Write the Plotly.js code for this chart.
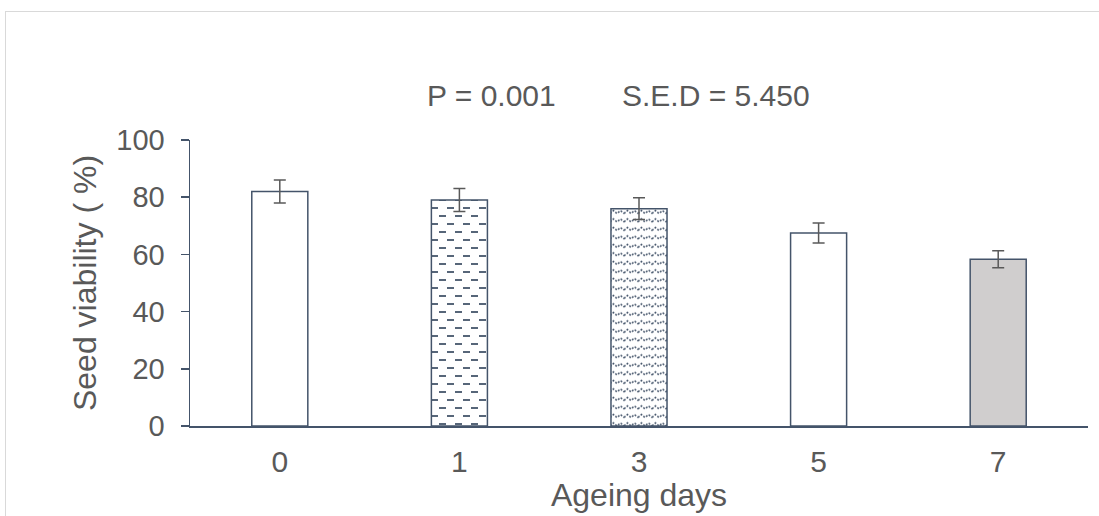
<!DOCTYPE html>
<html>
<head>
<meta charset="utf-8">
<script src="https://cdn.plot.ly/plotly-3.0.1.min.js"></script>
<style>
  html, body { margin: 0; padding: 0; background: #ffffff; }
  #wrap { position: relative; width: 1099px; height: 516px; overflow: hidden; }
  #frame { position: absolute; left: 5px; top: 11px; width: 1200px; height: 600px;
           border-top: 1px solid #d9d9d9; border-left: 1px solid #d9d9d9; pointer-events: none; }
  #chart { position: absolute; left: 0; top: 0; width: 1099px; height: 516px; }
</style>
</head>
<body>
<div id="wrap">
  <div id="chart"></div>
  <div id="frame"></div>
</div>
<script>
// Seed viability after accelerated ageing
const ageingDays = ['0', '1', '3', '5', '7'];
const viability = [82, 79, 76, 67.5, 58.3];
const viabilityErr = [4, 4, 3.8, 3.5, 3];
const barFills = ['#ffffff', '#ffffff', '#ffffff', '#ffffff', '#D0CECE'];
const barTextures = ['none', 'dash', 'wave', 'none', 'none'];
const yTicks = [0, 20, 40, 60, 80, 100];
const statsP = 'P = 0.001';
const statsSED = 'S.E.D = 5.450';

const textGrey = '#595959';
const axisBlue = '#44546A';
const font = 'Liberation Sans, Arial, sans-serif';

const trace = {
  type: 'bar',
  x: ageingDays,
  y: viability,
  width: 0.312,
  marker: {
    color: barFills,
    line: { color: axisBlue, width: 1.5 }
  },
  error_y: {
    type: 'data', array: viabilityErr, visible: true,
    color: textGrey, thickness: 1.5, width: 6
  },
  hoverinfo: 'skip'
};

const layout = {
  width: 1099, height: 516,
  margin: { l: 190, r: 11, t: 140, b: 90, pad: 0 },
  paper_bgcolor: 'rgba(0,0,0,0)',
  plot_bgcolor: 'rgba(0,0,0,0)',
  showlegend: false,
  font: { family: font, color: textGrey },
  xaxis: {
    type: 'category',
    showline: true, linecolor: axisBlue, linewidth: 1.5,
    ticks: '', showgrid: false, zeroline: false,
    tickfont: { size: 30, color: textGrey },
    ticklabelstandoff: 8,
    title: { text: 'Ageing days', font: { size: 32, color: textGrey }, standoff: 5 }
  },
  yaxis: {
    range: [0, 100],
    tickvals: yTicks,
    showline: true, linecolor: axisBlue, linewidth: 1.5,
    ticks: 'outside', ticklen: 8, tickwidth: 1.5, tickcolor: axisBlue,
    showgrid: false, zeroline: false,
    tickfont: { size: 29, color: textGrey },
    ticklabelstandoff: 10,
    title: { text: 'Seed viability ( %)', font: { size: 32, color: textGrey }, standoff: 10 }
  },
  annotations: [
    { text: statsP, xref: 'paper', yref: 'paper', x: 0.336, y: 1.155,
      xanchor: 'center', yanchor: 'middle', showarrow: false,
      font: { size: 30, color: textGrey } },
    { text: statsSED, xref: 'paper', yref: 'paper', x: 0.586, y: 1.155,
      xanchor: 'center', yanchor: 'middle', showarrow: false,
      font: { size: 30, color: textGrey } }
  ]
};

// Hatch textures for the patterned bars: offset dashed rows and dotted waves
function addTextures(gd) {
  const svgNS = 'http://www.w3.org/2000/svg';
  const svg = gd.querySelector('svg.main-svg');
  let defs = svg.querySelector('defs');
  if (!defs) { defs = document.createElementNS(svgNS, 'defs'); svg.insertBefore(defs, svg.firstChild); }

  function make(id, w, h, bg, build) {
    const p = document.createElementNS(svgNS, 'pattern');
    p.setAttribute('id', id);
    p.setAttribute('patternUnits', 'userSpaceOnUse');
    p.setAttribute('width', w);
    p.setAttribute('height', h);
    const r = document.createElementNS(svgNS, 'rect');
    r.setAttribute('width', w); r.setAttribute('height', h); r.setAttribute('fill', bg);
    p.appendChild(r);
    build(p);
    defs.appendChild(p);
  }
  function line(p, d, dash, sw) {
    const el = document.createElementNS(svgNS, 'path');
    el.setAttribute('d', d);
    el.setAttribute('fill', 'none');
    el.setAttribute('stroke', axisBlue);
    el.setAttribute('stroke-width', sw);
    if (dash) el.setAttribute('stroke-dasharray', dash);
    p.appendChild(el);
  }
  make('tex-dash', 16, 16, '#ffffff', p => {
    line(p, 'M1,4H8', null, 1.8);
    line(p, 'M9,12H16', null, 1.8);
  });
  make('tex-wave', 14, 8.5, '#ffffff', p => {
    line(p, 'M0,5.5 L3.5,2.5 L7,5.5 L10.5,2.5 L14,5.5', '2 1.5', 1.5);
  });

  const paths = gd.querySelectorAll('.trace.bars .point path');
  paths.forEach((el, i) => {
    const t = barTextures[i];
    if (t === 'dash') el.style.fill = 'url(#tex-dash)';
    if (t === 'wave') el.style.fill = 'url(#tex-wave)';
  });
}

Plotly.newPlot('chart', [trace], layout, { staticPlot: true, displayModeBar: false })
  .then(addTextures);
</script>
</body>
</html>
